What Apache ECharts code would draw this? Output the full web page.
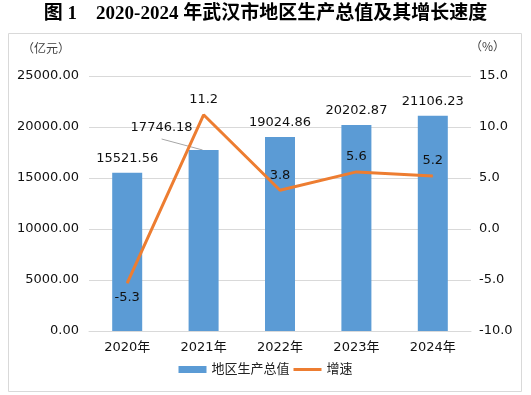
<!DOCTYPE html>
<html><head><meta charset="utf-8">
<script src="https://cdn.jsdelivr.net/npm/echarts@6/dist/echarts.min.js"></script>
<style>html,body{margin:0;padding:0;background:#fff}#c{width:531px;height:395px}</style>
</head><body><div id="c"></div>
<script>
const categories = ['2020年','2021年','2022年','2023年','2024年'];
const gdp = [15521.56, 17746.18, 19024.86, 20202.87, 21106.23];
const growth = [-5.3, 11.2, 3.8, 5.6, 5.2];
const leftTicks = {min: 0, max: 25000, interval: 5000};
const rightTicks = {min: -10, max: 15, interval: 5};
const growthLabelPos = ['bottom','top','top','top','top'];

const FONT = "'DejaVu Sans','Noto Sans CJK SC',sans-serif";
const chart = echarts.init(document.getElementById('c'));
const baseGraphic = [
  {type:'rect', shape:{x:8.5,y:33.5,width:513,height:358}, style:{fill:'none', stroke:'#d9d9d9', lineWidth:1}, silent:true},
  {type:'text', left:'center', top:5, style:{text:'图 1　2020-2024 年武汉市地区生产总值及其增长速度', font:"bold 19px 'Liberation Serif','DejaVu Serif','Noto Sans CJK SC',serif", fill:'#000'}},
  {type:'text', left:22, top:42, style:{text:'（亿元）', font:"12px 'Noto Sans CJK SC',sans-serif", fill:'#404040'}},
  {type:'text', left:470, top:40, style:{text:'（%）', font:"12px 'Noto Sans CJK SC',sans-serif", fill:'#404040'}}
];
chart.setOption({
  animation: false,
  textStyle: {fontFamily: FONT},
  graphic: baseGraphic,
  grid: {left: 89, right: 60, top: 76, bottom: 64},
  legend: {
    bottom: 14, left: 'center', itemWidth: 28, itemHeight: 7, itemGap: 4,
    textStyle: {fontSize: 13, color: '#222', fontFamily: FONT},
    data: [{name:'地区生产总值', icon:'rect'}, {name:'增速', icon:'path://M0 0H28V3H0Z', itemStyle:{color:'#ED7D31'}}]
  },
  xAxis: {
    type: 'category', data: categories,
    axisLine: {show: true, lineStyle: {color: '#d9d9d9'}},
    axisTick: {show: false},
    axisLabel: {color: '#111', fontSize: 13, margin: 10}
  },
  yAxis: [
    {type:'value', min:leftTicks.min, max:leftTicks.max, interval:leftTicks.interval,
     axisLine:{show:false}, axisTick:{show:false},
     axisLabel:{color:'#111', fontSize:13, margin:10, formatter: v => v.toFixed(2)},
     splitLine:{lineStyle:{color:'#d9d9d9'}}},
    {type:'value', min:rightTicks.min, max:rightTicks.max, interval:rightTicks.interval,
     axisLine:{show:false}, axisTick:{show:false},
     axisLabel:{color:'#111', fontSize:13, margin:8, formatter: v => v.toFixed(1)},
     splitLine:{show:false}}
  ],
  series: [
    {name:'地区生产总值', type:'bar', data: gdp,
     barWidth: 30, itemStyle:{color:'#5B9BD5'},
     label:{show:true, position:'top', distance:8, color:'#111', fontSize:13, formatter: p => p.value.toFixed(2)},
     labelLayout: function(p){ if (p.dataIndex === 1) return {dx:-42, dy:-8}; return {}; },
     z: 2},
    {name:'增速', type:'line', yAxisIndex:1, data: growth.map((v,i)=>({value:v, label:{position: growthLabelPos[i]}})),
     symbol:'circle', symbolSize:1, showSymbol:true, lineStyle:{color:'#ED7D31', width:3}, itemStyle:{color:'#ED7D31'},
     label:{show:true, color:'#111', fontSize:13, distance:8, formatter: p => p.value.toFixed(1)},
     z: 3}
  ]
});
// leader line for the moved 2021 bar label, anchored to the bar top via the axis scales
const p = chart.convertToPixel({seriesIndex:0}, [1, gdp[1]]);
chart.setOption({graphic: baseGraphic.concat([
  {type:'line', shape:{x1:p[0]-42, y1:p[1]-11, x2:p[0]-1, y2:p[1]}, style:{stroke:'#a6a6a6', lineWidth:1}, z:1, silent:true}
])});
</script></body></html>
